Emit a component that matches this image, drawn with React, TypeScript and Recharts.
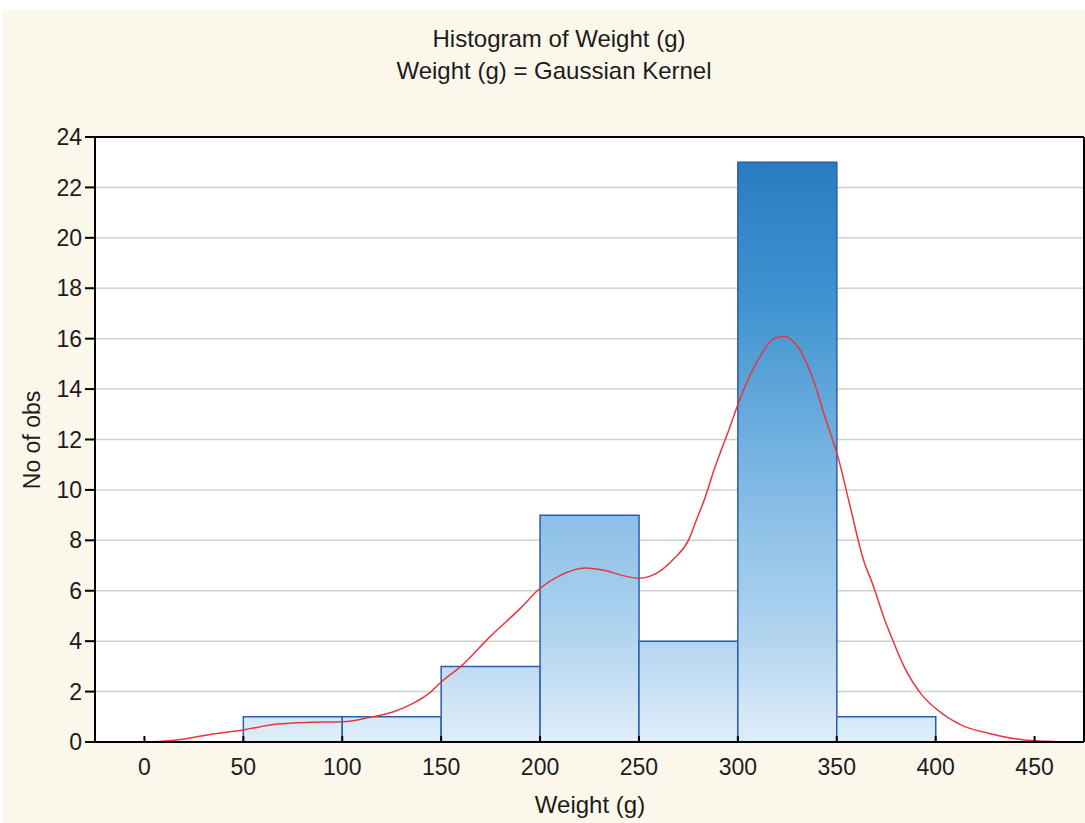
import { ComposedChart, Bar, Line, XAxis, YAxis, CartesianGrid } from 'recharts';

// histogram bins (g) and counts
const binLow = [50, 100, 150, 200, 250, 300, 350];
const binHigh = [100, 150, 200, 250, 300, 350, 400];
const binCounts = [1, 1, 3, 9, 4, 23, 1];

// gaussian kernel density curve (scaled to counts)
const kdeX = [3, 18, 33, 50, 67, 84, 100, 114, 126, 136, 145, 150, 160, 175, 190, 200, 210, 223, 233, 242, 250, 259, 268, 275, 279, 283, 288, 296, 301, 312, 318, 323, 331, 338, 344, 351, 356, 364, 368, 374, 378, 384, 393, 401, 413, 427, 443, 460];
const kdeY = [0, 0.1, 0.3, 0.48, 0.71, 0.78, 0.8, 0.98, 1.2, 1.54, 2.0, 2.38, 3.0, 4.2, 5.3, 6.1, 6.6, 6.9, 6.8, 6.6, 6.5, 6.7, 7.3, 8.0, 8.8, 9.6, 10.8, 12.5, 13.6, 15.4, 16.0, 16.1, 15.6, 14.4, 12.9, 11.2, 9.6, 7.1, 6.3, 4.9, 4.1, 3.0, 1.87, 1.27, 0.67, 0.34, 0.1, 0.02];

const xTicks = [0, 50, 100, 150, 200, 250, 300, 350, 400, 450];
const yTicks = [0, 2, 4, 6, 8, 10, 12, 14, 16, 18, 20, 22, 24];
const xDomain = [-25, 475];
const yDomain = [0, 24];

const bins = binLow.map((lo, i) => ({ mid: (lo + binHigh[i]) / 2, count: binCounts[i] }));
const kde = kdeX.map((x, i) => ({ x, y: kdeY[i] }));

const FONT = '"Liberation Sans", Arial, sans-serif';
const INK = '#1c1c1c';
const tickStyle = { fontSize: 23, fill: INK, fontFamily: FONT };

export default function App() {
  return (
    <div style={{ position: 'absolute', left: 0, top: 0, width: 1085, height: 823, background: '#fff', overflow: 'hidden' }}>
      <div style={{ position: 'absolute', left: 3, top: 10, right: 0, bottom: 0, background: '#fcf7eb' }} />
      {/* plot area background */}
      <div style={{ position: 'absolute', left: 95, top: 137, width: 989, height: 605, background: '#fff' }} />
      <div style={{ position: 'absolute', left: 0, top: 0 }}>
        <ComposedChart
          width={1085}
          height={823}
          data={bins}
          margin={{ top: 136, right: 0, bottom: 0, left: 0 }}
          barCategoryGap={0}
          barGap={0}
        >
          <defs>
            <linearGradient id="barGrad" gradientUnits="userSpaceOnUse" x1="0" y1="137" x2="0" y2="742">
              <stop offset="0" stopColor="#2675bd" />
              <stop offset="0.04" stopColor="#2a7cc2" />
              <stop offset="0.27" stopColor="#3f93d1" />
              <stop offset="0.625" stopColor="#8bbfe7" />
              <stop offset="0.83" stopColor="#b3d5f0" />
              <stop offset="0.957" stopColor="#d5e8f7" />
              <stop offset="1" stopColor="#deedf9" />
            </linearGradient>
          </defs>
          <CartesianGrid vertical={false} stroke="#d0d0d0" strokeWidth={1.5} />
          <XAxis
            dataKey="mid"
            type="number"
            domain={xDomain}
            ticks={xTicks}
            allowDataOverflow
            height={81}
            tickSize={-6}
            tickMargin={23}
            tick={tickStyle}
            stroke="#000"
            strokeWidth={2}
          />
          <XAxis
            xAxisId="t"
            dataKey="x"
            type="number"
            orientation="top"
            height={1}
            domain={xDomain}
            ticks={xTicks}
            allowDataOverflow
            tick={false}
            tickSize={-5}
            stroke="#000"
            strokeWidth={2}
          />
          <YAxis
            type="number"
            domain={yDomain}
            ticks={yTicks}
            width={95}
            tickSize={10}
            tickMargin={3}
            tick={tickStyle}
            stroke="#000"
            strokeWidth={2}
          />
          <YAxis
            yAxisId="r"
            orientation="right"
            width={1}
            type="number"
            domain={yDomain}
            ticks={yTicks}
            tick={false}
            tickSize={-5}
            stroke="#000"
            strokeWidth={2}
          />
          <Bar dataKey="count" fill="url(#barGrad)" stroke="#2a5cb0" strokeWidth={1.5} isAnimationActive={false} />
          <Line
            xAxisId="t"
            data={kde}
            dataKey="y"
            type="monotone"
            stroke="#e8363f"
            strokeWidth={1.5}
            dot={false}
            activeDot={false}
            isAnimationActive={false}
          />
        </ComposedChart>
      </div>
      <svg width={1085} height={823} style={{ position: 'absolute', left: 0, top: 0, pointerEvents: 'none' }}>
        <g fontFamily={FONT} fontSize={24} fill={INK}>
          <text x={559} y={47} textAnchor="middle">Histogram of Weight (g)</text>
          <text x={554} y={79} textAnchor="middle">Weight (g) = Gaussian Kernel</text>
          <text x={590} y={813} textAnchor="middle">Weight (g)</text>
          <text transform="translate(39.5,440) rotate(-90)" textAnchor="middle" fontSize={23}>No of obs</text>
        </g>
      </svg>
    </div>
  );
}
